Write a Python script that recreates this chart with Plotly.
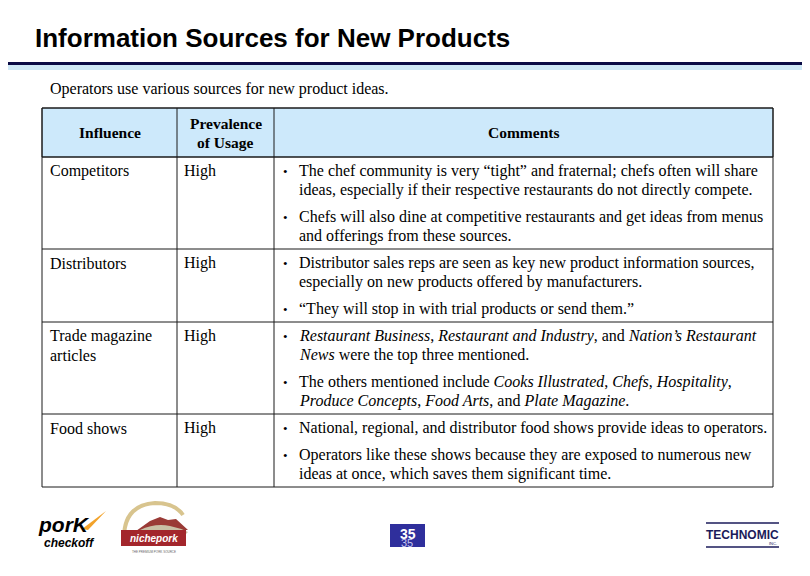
import plotly.graph_objects as go

# ---------------- data ----------------
title = "Information Sources for New Products"
subtitle = "Operators use various sources for new product ideas."
headers = [["Influence"], ["Prevalence", "of Usage"], ["Comments"]]
influences = [["Competitors"], ["Distributors"], ["Trade magazine", "articles"], ["Food shows"]]
prevalence = ["High", "High", "High", "High"]
comments = [
    [["The chef community is very \u201ctight\u201d and fraternal; chefs often will share",
      "ideas, especially if their respective restaurants do not directly compete."],
     ["Chefs will also dine at competitive restaurants and get ideas from menus",
      "and offerings from these sources."]],
    [["Distributor sales reps are seen as key new product information sources,",
      "especially on new products offered by manufacturers."],
     ["\u201cThey will stop in with trial products or send them.\u201d"]],
    [["<i>Restaurant Business</i>, <i>Restaurant and Industry</i>, and <i>Nation\u2019s Restaurant</i>",
      "<i>News</i> were the top three mentioned."],
     ["The others mentioned include <i>Cooks Illustrated</i>, <i>Chefs</i>, <i>Hospitality</i>,",
      "<i>Produce Concepts</i>, <i>Food Arts</i>, and <i>Plate Magazine</i>."]],
    [["National, regional, and distributor food shows provide ideas to operators."],
     ["Operators like these shows because they are exposed to numerous new",
      "ideas at once, which saves them significant time."]],
]
page_number = "35"

# ---------------- layout constants ----------------
W, H = 810, 576
OFF = 8  # page body margin
SERIF = "Liberation Serif"
SANS = "Liberation Sans"
FS = 16
PAD = 2
col_x = [42, 177, 274, 773]
header_top, header_bot = 108, 157
first_off, line_step, para_gap, bottom_pad = 14, 19, 8, 13
line_col = "#1a1a1a"

fig = go.Figure()
shapes = []
annots = []

def text(x, y, s, size=FS, font=SERIF, color="black", xanchor="left", yanchor="middle", bold=False):
    if bold:
        s = "<b>" + s + "</b>"
    if xanchor == "left":
        x -= PAD
    annots.append(dict(x=x, y=y, xref="x", yref="y", text=s, showarrow=False,
                       xanchor=xanchor, yanchor=yanchor,
                       font=dict(family=font, size=size, color=color)))

# title + rule
text(35, 38, title, size=26, font=SANS, bold=True)
shapes.append(dict(type="rect", x0=0, x1=W, y0=65, y1=70, fillcolor="#cfe8f6", line_width=0, layer="below"))
shapes.append(dict(type="rect", x0=0, x1=W, y0=62, y1=65, fillcolor="#0b0b45", line_width=0))
text(50, 89, subtitle)

# header
shapes.append(dict(type="rect", x0=col_x[0], x1=col_x[3], y0=header_top, y1=header_bot,
                   fillcolor="#cde9fb", line=dict(color=line_col, width=1), layer="below"))
hy = (header_top + header_bot) / 2
for i, h in enumerate(headers):
    cx = (col_x[i] + col_x[i + 1]) / 2
    n = len(h)
    for j, ln in enumerate(h):
        text(cx, hy + (j - (n - 1) / 2) * 19, ln, size=15.5, xanchor="center", bold=True)

# rows
y = header_bot
row_bounds = [y]
for r in range(len(influences)):
    top = y
    for j, ln in enumerate(influences[r]):
        text(50, top + first_off + j * line_step, ln)
    text(184, top + first_off, prevalence[r])
    cy = top + first_off
    for p, para in enumerate(comments[r]):
        if p > 0:
            cy += line_step + para_gap
        text(283, cy, "\u2022", size=13)
        for k, ln in enumerate(para):
            if k > 0:
                cy += line_step
            text(299, cy, ln)
    y = cy + bottom_pad
    row_bounds.append(y)

# table lines
tb = row_bounds[-1]
for x in col_x:
    shapes.append(dict(type="line", x0=x, x1=x, y0=header_top, y1=tb, line=dict(color=line_col, width=1)))
for yy in [header_top] + row_bounds:
    shapes.append(dict(type="line", x0=col_x[0], x1=col_x[3], y0=yy, y1=yy, line=dict(color=line_col, width=1)))

# ---------------- footer logos ----------------
# pork checkoff
shapes.append(dict(type="path", path="M 82 529 L 106 511 L 88 530 Z", fillcolor="#f2a22a", line_width=0))
text(38, 524, "<i>porK</i>", size=21, font=SANS, bold=True)
text(44, 543, "<i>checkoff</i>", size=12, font=SANS, bold=True)
# nichepork
shapes.append(dict(type="path", path="M 124 538 Q 124 505 155 503 Q 175 503 183 515",
                   line=dict(color="#d8c48e", width=4)))
shapes.append(dict(type="path", path="M 136 531 L 150 521 L 160 517 L 168 520 L 176 519 L 188 530 Z",
                   fillcolor="#9a3a36", line_width=0))
shapes.append(dict(type="path", path="M 140 530 Q 155 523 170 526 Q 180 528 188 532 L 186 534 L 140 534 Z",
                   fillcolor="#c9bfa5", line_width=0))
shapes.append(dict(type="rect", x0=121, x1=186, y0=530, y1=546, fillcolor="#a3262c", line_width=0))
text(153.5, 538, "<i>nichepork</i>", size=10, font=SANS, color="white", xanchor="center", bold=True)
text(153.5, 552, "THE PREMIUM PORK SOURCE", size=3, font=SANS, color="#666666", xanchor="center")
# page number (the slide shows the number twice, slightly offset)
shapes.append(dict(type="rect", x0=390, x1=425, y0=524, y1=547, fillcolor="#2f2f9c", line_width=0))
text(407.5, 534, page_number, size=14, font=SANS, color="white", xanchor="center", bold=True)
text(406.5, 543, page_number, size=11, font=SANS, color="#c8c8f0", xanchor="center")
# technomic
shapes.append(dict(type="line", x0=706, x1=779, y0=523, y1=523, line=dict(color="#1b1b5a", width=1.5)))
shapes.append(dict(type="line", x0=706, x1=779, y0=547, y1=547, line=dict(color="#1b1b5a", width=1.5)))
text(742, 535, "TECHNOMIC", size=12, font=SANS, color="#1b1b5a", xanchor="center", bold=True)
text(779, 543, "INC.", size=4, font=SANS, color="#1b1b5a", xanchor="right")

fig.update_layout(
    width=W - OFF, height=H - OFF, margin=dict(l=0, r=0, t=0, b=0),
    paper_bgcolor="white", plot_bgcolor="white",
    xaxis=dict(range=[OFF, W], visible=False, fixedrange=True),
    yaxis=dict(range=[H, OFF], visible=False, fixedrange=True),
    shapes=shapes, annotations=annots, showlegend=False,
)
fig.write_html("out.html")
